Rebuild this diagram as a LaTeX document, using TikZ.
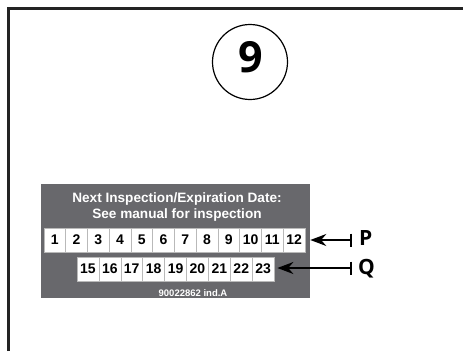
\documentclass[tikz,border=0pt]{standalone}
\usepackage{fontspec}
\setmainfont{Liberation Sans}
\newfontfamily\labelfont{Open Sans}
\usetikzlibrary{arrows.meta}
\definecolor{panel}{RGB}{104,104,108}
\definecolor{frame}{RGB}{35,35,35}
\begin{document}
\begin{tikzpicture}[x=1pt,y=-1pt,
  cellbox/.style={fill=white,draw=gray!55,line width=0.6pt,minimum height=24pt,inner sep=0pt,
    font=\bfseries\fontsize{14}{14}\selectfont},
  paneltext/.style={text=white,inner sep=0pt,font=\bfseries\fontsize{13.6}{14}\selectfont},
  pointer/.style={line width=1.8pt,{Bar[width=13pt]}-{Stealth[length=16pt,width=12pt]}},
  letter/.style={anchor=base west,inner sep=0pt,font=\labelfont\bfseries\fontsize{21}{22}\selectfont}]
\useasboundingbox (0,0) rectangle (463,351);
% frame
\draw[frame,line width=3pt] (8.5,351) -- (8.5,8.5) -- (463,8.5);
% circled number
\node[circle,draw,line width=1.2pt,minimum size=75pt,inner sep=0pt] (circ) at (250,62) {};
\node[inner sep=0pt,font=\labelfont\bfseries\fontsize{43}{43}\selectfont] (nine) at (251,57.5) {9};
% panel
\node[fill=panel,minimum width=269pt,minimum height=114pt,anchor=north west,inner sep=0pt] (panel) at (41,184) {};
\node[paneltext] (t1) at (177,199) {Next Inspection/Expiration Date:};
\node[paneltext] (t2) at (177,215) {See manual for inspection};
\node[text=white,inner sep=0pt,font=\bfseries\fontsize{9.5}{10}\selectfont] (code) at (193,293) {90022862 ind.A};
% row 1
\foreach \i in {1,...,12}{
  \node[cellbox,minimum width=21.75pt] (b\i) at ({44+(\i-0.5)*21.75},240) {\i};
}
% row 2
\foreach \i [count=\k] in {15,...,23}{
  \node[cellbox,minimum width=21.9pt] (b\i) at ({77+(\k-0.5)*21.9},269) {\i};
}
% pointers
\coordinate (pend) at (352,240);
\coordinate (qend) at (352,268);
\draw[pointer] (pend) -- ([xshift=5pt]b12.east);
\draw[pointer] (qend) -- ([xshift=3pt]b23.east |- qend);
\node[letter] (P) at (359,245.5) {P};
\node[letter] (Q) at (358,274) {Q};
\end{tikzpicture}
\end{document}
